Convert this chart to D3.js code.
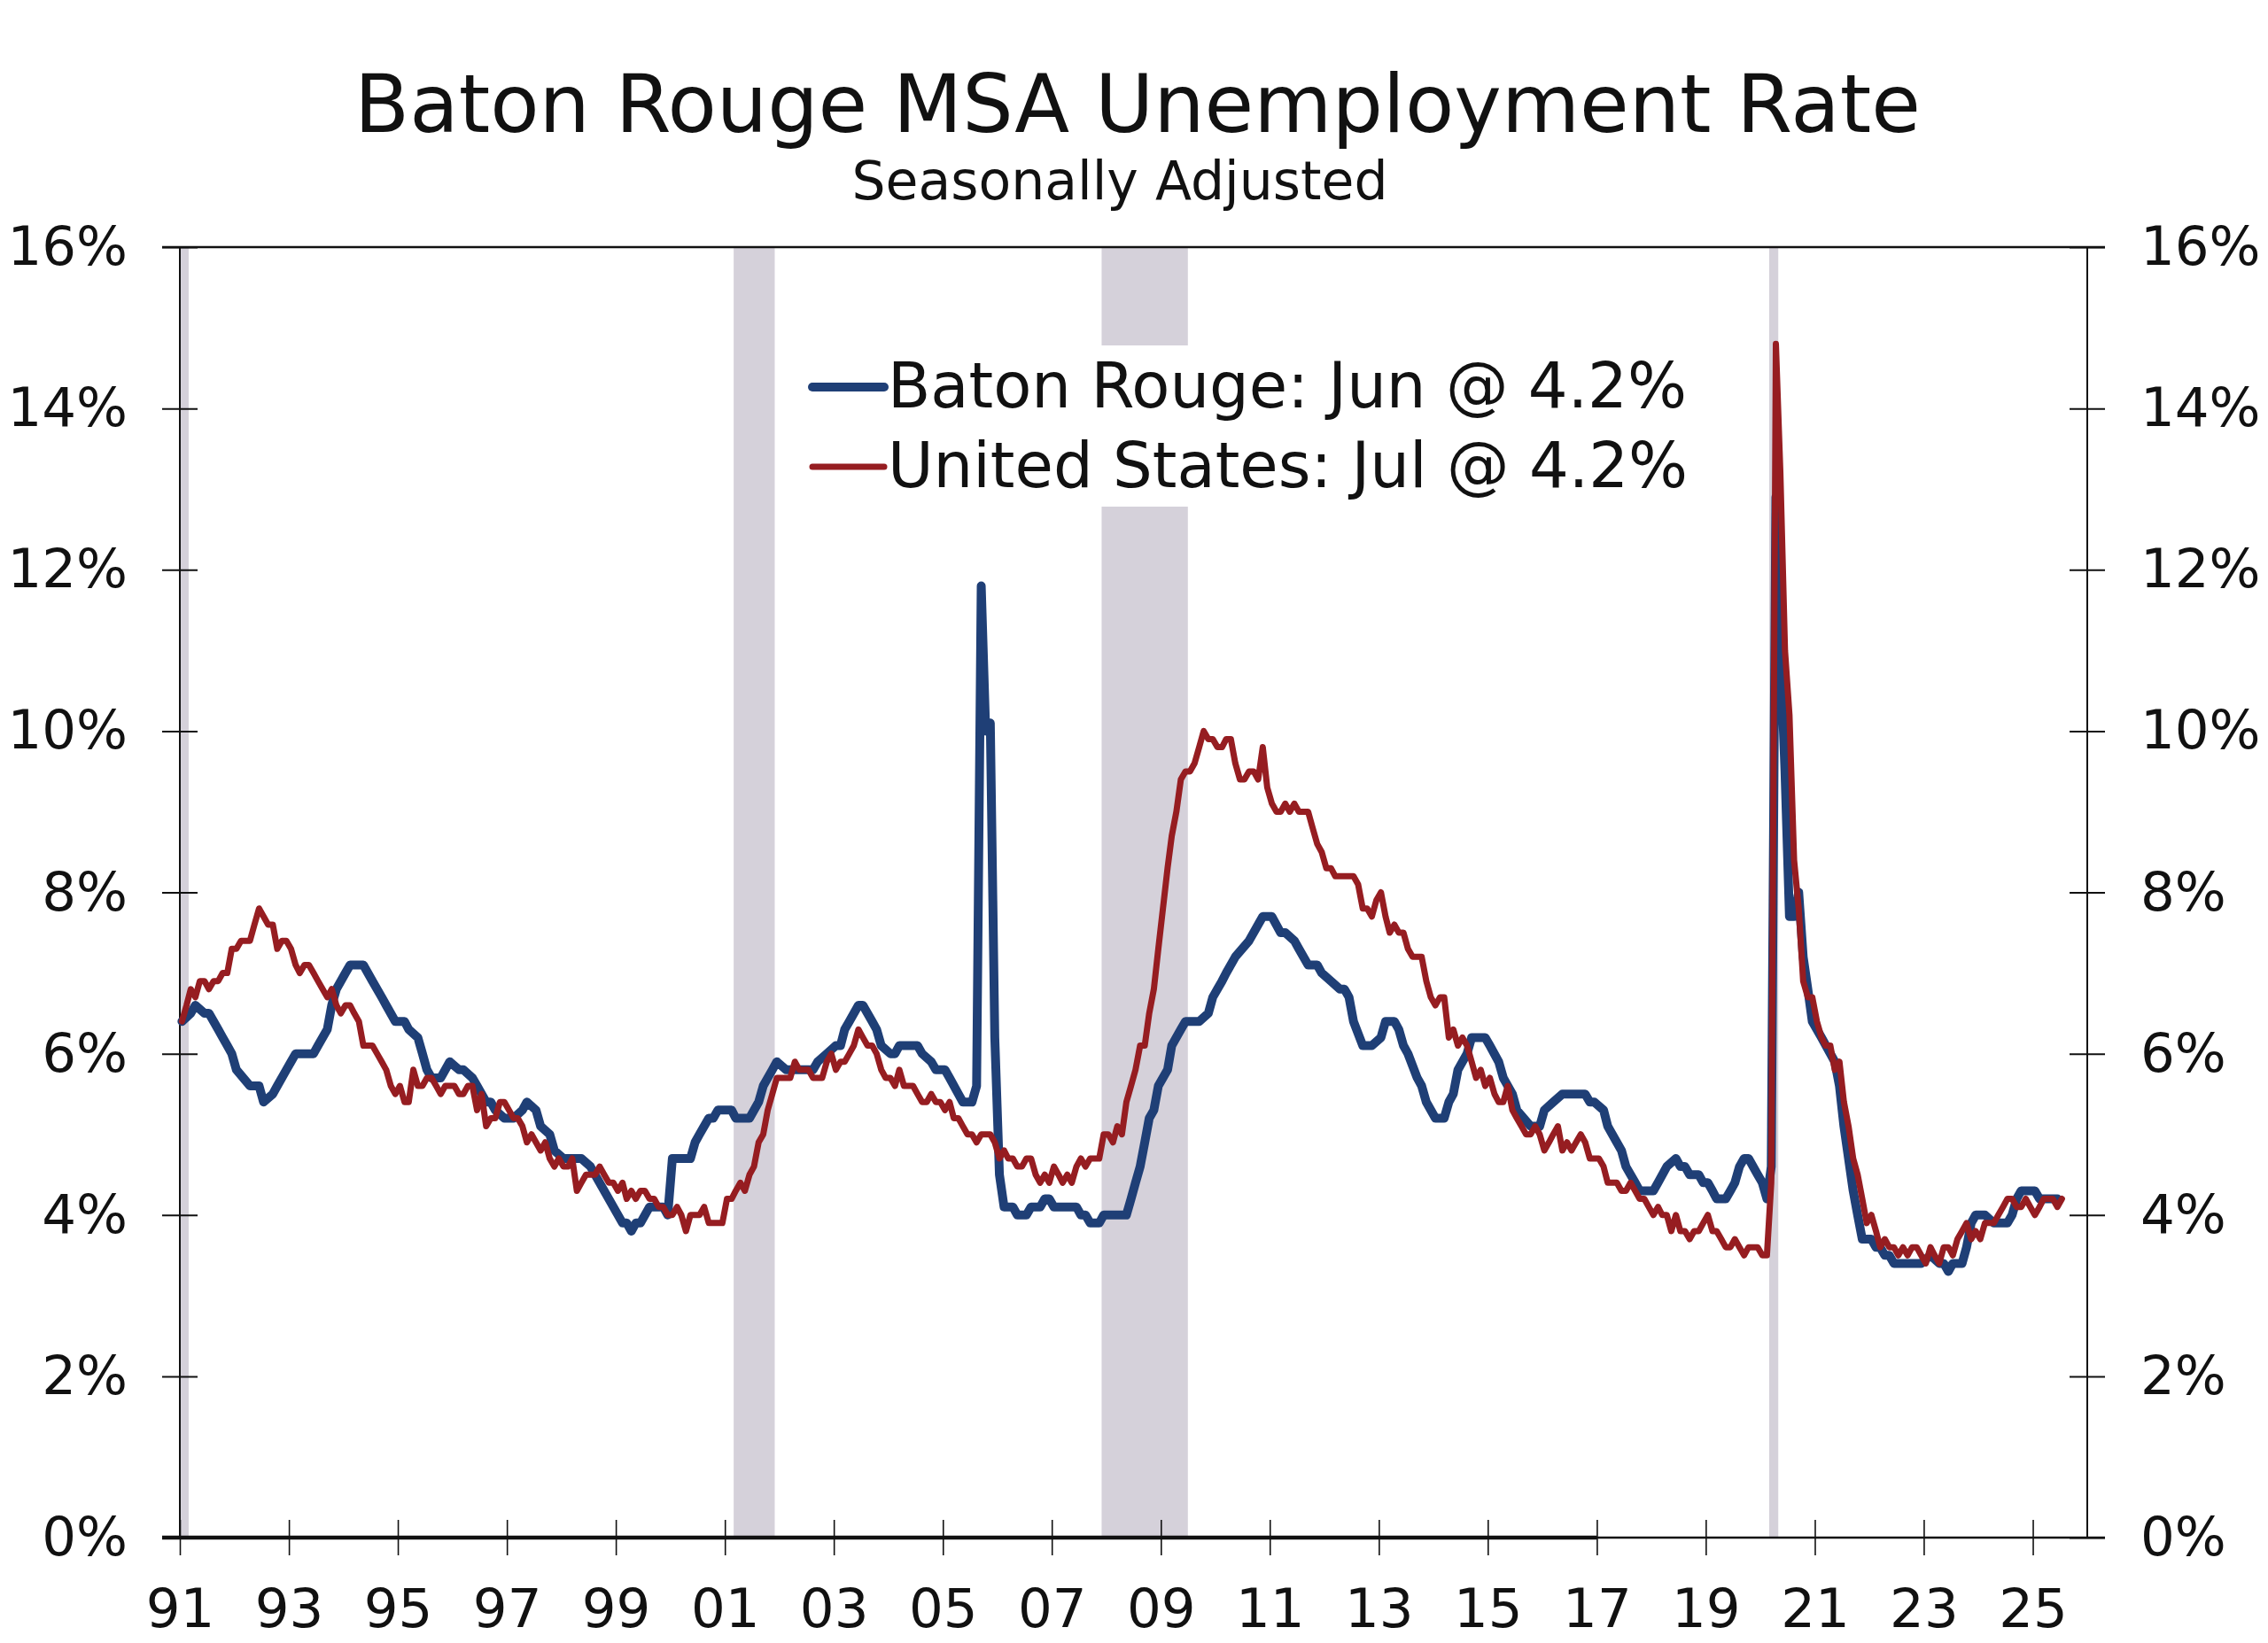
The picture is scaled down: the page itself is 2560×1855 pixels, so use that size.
<!DOCTYPE html>
<html>
<head>
  <meta charset="utf-8" />
  <title>Baton Rouge MSA Unemployment Rate</title>
  <script src="https://cdnjs.cloudflare.com/ajax/libs/d3/7.8.5/d3.min.js"></script>
  <style>
    body { margin: 0; background: #fff; }
    text { font-family: "DejaVu Sans", Verdana, sans-serif; fill: #111; }
  </style>
</head>
<body>
  <svg id="chart" width="2560" height="1855"></svg>
<script>
  // ---- data ----
  var titleText    = "Baton Rouge MSA Unemployment Rate"
  var subtitleText = "Seasonally Adjusted"
  var legendLabels = ["Baton Rouge: Jun @ 4.2%", "United States: Jul @ 4.2%"]
  var yTicks       = [0, 2, 4, 6, 8, 10, 12, 14, 16]
  var xTickYears   = [1991, 1993, 1995, 1997, 1999, 2001, 2003, 2005, 2007,
                      2009, 2011, 2013, 2015, 2017, 2019, 2021, 2023, 2025]

  // shaded recessions, [first month, month after]
  var recessions = [["1991-01", "1991-03"], ["2001-03", "2001-12"],
                    ["2007-12", "2009-07"], ["2020-03", "2020-05"]]

  // United States, monthly from usStart
  var usStart = "1991-01"
  var usRate = [
    6.4, 6.6, 6.8, 6.7, 6.9, 6.9, 6.8, 6.9, 6.9, 7.0, 7.0, 7.3,   // 1991
    7.3, 7.4, 7.4, 7.4, 7.6, 7.8, 7.7, 7.6, 7.6, 7.3, 7.4, 7.4,   // 1992
    7.3, 7.1, 7.0, 7.1, 7.1, 7.0, 6.9, 6.8, 6.7, 6.8, 6.6, 6.5,   // 1993
    6.6, 6.6, 6.5, 6.4, 6.1, 6.1, 6.1, 6.0, 5.9, 5.8, 5.6, 5.5,   // 1994
    5.6, 5.4, 5.4, 5.8, 5.6, 5.6, 5.7, 5.7, 5.6, 5.5, 5.6, 5.6,   // 1995
    5.6, 5.5, 5.5, 5.6, 5.6, 5.3, 5.5, 5.1, 5.2, 5.2, 5.4, 5.4,   // 1996
    5.3, 5.2, 5.2, 5.1, 4.9, 5.0, 4.9, 4.8, 4.9, 4.7, 4.6, 4.7,   // 1997
    4.6, 4.6, 4.7, 4.3, 4.4, 4.5, 4.5, 4.5, 4.6, 4.5, 4.4, 4.4,   // 1998
    4.3, 4.4, 4.2, 4.3, 4.2, 4.3, 4.3, 4.2, 4.2, 4.1, 4.1, 4.0,   // 1999
    4.0, 4.1, 4.0, 3.8, 4.0, 4.0, 4.0, 4.1, 3.9, 3.9, 3.9, 3.9,   // 2000
    4.2, 4.2, 4.3, 4.4, 4.3, 4.5, 4.6, 4.9, 5.0, 5.3, 5.5, 5.7,   // 2001
    5.7, 5.7, 5.7, 5.9, 5.8, 5.8, 5.8, 5.7, 5.7, 5.7, 5.9, 6.0,   // 2002
    5.8, 5.9, 5.9, 6.0, 6.1, 6.3, 6.2, 6.1, 6.1, 6.0, 5.8, 5.7,   // 2003
    5.7, 5.6, 5.8, 5.6, 5.6, 5.6, 5.5, 5.4, 5.4, 5.5, 5.4, 5.4,   // 2004
    5.3, 5.4, 5.2, 5.2, 5.1, 5.0, 5.0, 4.9, 5.0, 5.0, 5.0, 4.9,   // 2005
    4.7, 4.8, 4.7, 4.7, 4.6, 4.6, 4.7, 4.7, 4.5, 4.4, 4.5, 4.4,   // 2006
    4.6, 4.5, 4.4, 4.5, 4.4, 4.6, 4.7, 4.6, 4.7, 4.7, 4.7, 5.0,   // 2007
    5.0, 4.9, 5.1, 5.0, 5.4, 5.6, 5.8, 6.1, 6.1, 6.5, 6.8, 7.3,   // 2008
    7.8, 8.3, 8.7, 9.0, 9.4, 9.5, 9.5, 9.6, 9.8, 10.0, 9.9, 9.9,  // 2009
    9.8, 9.8, 9.9, 9.9, 9.6, 9.4, 9.4, 9.5, 9.5, 9.4, 9.8, 9.3,   // 2010
    9.1, 9.0, 9.0, 9.1, 9.0, 9.1, 9.0, 9.0, 9.0, 8.8, 8.6, 8.5,   // 2011
    8.3, 8.3, 8.2, 8.2, 8.2, 8.2, 8.2, 8.1, 7.8, 7.8, 7.7, 7.9,   // 2012
    8.0, 7.7, 7.5, 7.6, 7.5, 7.5, 7.3, 7.2, 7.2, 7.2, 6.9, 6.7,   // 2013
    6.6, 6.7, 6.7, 6.2, 6.3, 6.1, 6.2, 6.1, 5.9, 5.7, 5.8, 5.6,   // 2014
    5.7, 5.5, 5.4, 5.4, 5.6, 5.3, 5.2, 5.1, 5.0, 5.0, 5.1, 5.0,   // 2015
    4.8, 4.9, 5.0, 5.1, 4.8, 4.9, 4.8, 4.9, 5.0, 4.9, 4.7, 4.7,   // 2016
    4.7, 4.6, 4.4, 4.4, 4.4, 4.3, 4.3, 4.4, 4.3, 4.2, 4.2, 4.1,   // 2017
    4.0, 4.1, 4.0, 4.0, 3.8, 4.0, 3.8, 3.8, 3.7, 3.8, 3.8, 3.9,   // 2018
    4.0, 3.8, 3.8, 3.7, 3.6, 3.6, 3.7, 3.6, 3.5, 3.6, 3.6, 3.6,   // 2019
    3.5, 3.5, 4.4, 14.8, 13.2, 11.0, 10.2, 8.4, 7.8, 6.9, 6.7, 6.7, // 2020
    6.4, 6.2, 6.1, 6.1, 5.8, 5.9, 5.4, 5.1, 4.7, 4.5, 4.2, 3.9,   // 2021
    4.0, 3.8, 3.6, 3.7, 3.6, 3.6, 3.5, 3.6, 3.5, 3.6, 3.6, 3.5,   // 2022
    3.4, 3.6, 3.5, 3.4, 3.6, 3.6, 3.5, 3.7, 3.8, 3.9, 3.7, 3.8,   // 2023
    3.7, 3.9, 3.9, 3.9, 4.0, 4.1, 4.2, 4.2, 4.1, 4.1, 4.2, 4.1,   // 2024
    4.0, 4.1, 4.2, 4.2, 4.2, 4.1, 4.2                             // 2025
  ]

  // Baton Rouge, points read where the line turns
  var brPoints = [
    ["1991-01", 6.4], ["1991-03", 6.5], ["1991-04", 6.6], ["1991-06", 6.5], ["1991-07", 6.5],
    ["1991-09", 6.3], ["1991-10", 6.2], ["1991-11", 6.1], ["1991-12", 6.0], ["1992-01", 5.8],
    ["1992-04", 5.6], ["1992-06", 5.6], ["1992-07", 5.4], ["1992-09", 5.5], ["1992-10", 5.6],
    ["1992-12", 5.8], ["1993-01", 5.9], ["1993-02", 6.0], ["1993-06", 6.0], ["1993-07", 6.1],
    ["1993-09", 6.3], ["1993-10", 6.6], ["1993-11", 6.8], ["1994-01", 7.0], ["1994-02", 7.1],
    ["1994-05", 7.1], ["1994-07", 6.9], ["1994-09", 6.7], ["1994-10", 6.6], ["1994-12", 6.4],
    ["1995-02", 6.4], ["1995-03", 6.3], ["1995-05", 6.2], ["1995-06", 6.0], ["1995-07", 5.8],
    ["1995-08", 5.7], ["1995-10", 5.7], ["1995-11", 5.8], ["1995-12", 5.9], ["1996-02", 5.8],
    ["1996-03", 5.8], ["1996-05", 5.7], ["1996-06", 5.6], ["1996-08", 5.4], ["1996-09", 5.4],
    ["1996-10", 5.3], ["1996-12", 5.2], ["1997-02", 5.2], ["1997-04", 5.3], ["1997-05", 5.4],
    ["1997-07", 5.3], ["1997-08", 5.1], ["1997-10", 5.0], ["1997-11", 4.8], ["1998-01", 4.7],
    ["1998-05", 4.7], ["1998-07", 4.6], ["1999-02", 3.9], ["1999-03", 3.9], ["1999-04", 3.8],
    ["1999-05", 3.9], ["1999-06", 3.9], ["1999-08", 4.1], ["1999-09", 4.1], ["1999-11", 4.1],
    ["1999-12", 4.0], ["2000-01", 4.7], ["2000-05", 4.7], ["2000-06", 4.9], ["2000-07", 5.0],
    ["2000-09", 5.2], ["2000-10", 5.2], ["2000-11", 5.3], ["2001-02", 5.3], ["2001-03", 5.2],
    ["2001-06", 5.2], ["2001-08", 5.4], ["2001-09", 5.6], ["2001-11", 5.8], ["2001-12", 5.9],
    ["2002-02", 5.8], ["2002-08", 5.8], ["2002-09", 5.9], ["2002-11", 6.0], ["2003-01", 6.1],
    ["2003-02", 6.1], ["2003-03", 6.3], ["2003-04", 6.4], ["2003-06", 6.6], ["2003-07", 6.6],
    ["2003-09", 6.4], ["2003-10", 6.3], ["2003-11", 6.1], ["2004-01", 6.0], ["2004-02", 6.0],
    ["2004-03", 6.1], ["2004-07", 6.1], ["2004-08", 6.0], ["2004-10", 5.9], ["2004-11", 5.8],
    ["2005-01", 5.8], ["2005-02", 5.7], ["2005-04", 5.5], ["2005-05", 5.4], ["2005-07", 5.4],
    ["2005-08", 5.6], ["2005-09", 11.8], ["2005-10", 10.0], ["2005-11", 10.1], ["2005-12", 6.2],
    ["2006-01", 4.5], ["2006-02", 4.1], ["2006-04", 4.1], ["2006-05", 4.0], ["2006-07", 4.0],
    ["2006-08", 4.1], ["2006-10", 4.1], ["2006-11", 4.2], ["2006-12", 4.2], ["2007-01", 4.1],
    ["2007-06", 4.1], ["2007-07", 4.0], ["2007-08", 4.0], ["2007-09", 3.9], ["2007-11", 3.9],
    ["2007-12", 4.0], ["2008-04", 4.0], ["2008-05", 4.0], ["2008-06", 4.2], ["2008-07", 4.4],
    ["2008-08", 4.6], ["2008-09", 4.9], ["2008-10", 5.2], ["2008-11", 5.3], ["2008-12", 5.6],
    ["2009-02", 5.8], ["2009-03", 6.1], ["2009-05", 6.3], ["2009-06", 6.4], ["2009-09", 6.4],
    ["2009-11", 6.5], ["2009-12", 6.7], ["2010-01", 6.8], ["2010-02", 6.9], ["2010-03", 7.0],
    ["2010-05", 7.2], ["2010-08", 7.4], ["2010-10", 7.6], ["2010-11", 7.7], ["2011-01", 7.7],
    ["2011-03", 7.5], ["2011-04", 7.5], ["2011-06", 7.4], ["2011-07", 7.3], ["2011-09", 7.1],
    ["2011-11", 7.1], ["2011-12", 7.0], ["2012-02", 6.9], ["2012-04", 6.8], ["2012-05", 6.8],
    ["2012-06", 6.7], ["2012-07", 6.4], ["2012-09", 6.1], ["2012-11", 6.1], ["2013-01", 6.2],
    ["2013-02", 6.4], ["2013-04", 6.4], ["2013-05", 6.3], ["2013-06", 6.1], ["2013-07", 6.0],
    ["2013-09", 5.7], ["2013-10", 5.6], ["2013-11", 5.4], ["2014-01", 5.2], ["2014-03", 5.2],
    ["2014-04", 5.4], ["2014-05", 5.5], ["2014-06", 5.8], ["2014-08", 6.0], ["2014-09", 6.2],
    ["2014-12", 6.2], ["2015-01", 6.1], ["2015-03", 5.9], ["2015-04", 5.7], ["2015-06", 5.5],
    ["2015-07", 5.3], ["2015-10", 5.1], ["2015-12", 5.1], ["2016-01", 5.3], ["2016-03", 5.4],
    ["2016-05", 5.5], ["2016-10", 5.5], ["2016-11", 5.4], ["2016-12", 5.4], ["2017-02", 5.3],
    ["2017-03", 5.1], ["2017-05", 4.9], ["2017-06", 4.8], ["2017-07", 4.6], ["2017-09", 4.4],
    ["2017-10", 4.3], ["2018-01", 4.3], ["2018-02", 4.4], ["2018-04", 4.6], ["2018-06", 4.7],
    ["2018-07", 4.6], ["2018-08", 4.6], ["2018-09", 4.5], ["2018-11", 4.5], ["2018-12", 4.4],
    ["2019-01", 4.4], ["2019-02", 4.3], ["2019-03", 4.2], ["2019-05", 4.2], ["2019-06", 4.3],
    ["2019-07", 4.4], ["2019-08", 4.6], ["2019-09", 4.7], ["2019-10", 4.7], ["2019-12", 4.5],
    ["2020-01", 4.4], ["2020-02", 4.2], ["2020-03", 4.6], ["2020-04", 12.9], ["2020-05", 11.0],
    ["2020-06", 9.5], ["2020-07", 7.7], ["2020-08", 7.7], ["2020-09", 8.0], ["2020-10", 7.2],
    ["2020-11", 6.8], ["2020-12", 6.4], ["2021-02", 6.2], ["2021-04", 6.0], ["2021-05", 5.9],
    ["2021-06", 5.6], ["2021-07", 5.1], ["2021-08", 4.7], ["2021-09", 4.3], ["2021-10", 4.0],
    ["2021-11", 3.7], ["2022-01", 3.7], ["2022-02", 3.6], ["2022-03", 3.6], ["2022-04", 3.5],
    ["2022-05", 3.5], ["2022-06", 3.4], ["2022-12", 3.4], ["2023-02", 3.5], ["2023-04", 3.4],
    ["2023-05", 3.4], ["2023-06", 3.3], ["2023-07", 3.4], ["2023-09", 3.4], ["2023-10", 3.6],
    ["2023-11", 3.9], ["2023-12", 4.0], ["2024-02", 4.0], ["2024-04", 3.9], ["2024-07", 3.9],
    ["2024-08", 4.0], ["2024-09", 4.2], ["2024-10", 4.3], ["2025-01", 4.3], ["2025-02", 4.2],
    ["2025-06", 4.2]
  ]

  // ---- layout ----
  var plot   = { left: 203, right: 2356, top: 279, bottom: 1736 }
  var blue   = "#1f3f76"
  var red    = "#961d21"
  var shade  = "#d5d1da"

  var svg   = d3.select("#chart")
  var parse = d3.timeParse("%Y-%m")
  var mid   = d => d3.timeDay.offset(d, 14)   // monthly values sit mid-month

  var x = d3.scaleTime()
            .domain([parse("1991-01"), parse("2026-01")])
            .range([plot.left, plot.right])
  var y = d3.scaleLinear().domain([0, 16]).range([plot.bottom, plot.top])

  var brData = brPoints.map(d => ({ date: mid(parse(d[0])), value: d[1] }))
  var usData = usRate.map((v, i) => ({ date: mid(d3.timeMonth.offset(parse(usStart), i)), value: v }))

  svg.append("rect").attr("width", 2560).attr("height", 1855).attr("fill", "#fff")

  // titles
  svg.append("text")
     .attr("x", 1284).attr("y", 149)
     .attr("text-anchor", "middle").attr("font-size", 90.5)
     .text(titleText)
  svg.append("text")
     .attr("x", 1264).attr("y", 225)
     .attr("text-anchor", "middle").attr("font-size", 60)
     .text(subtitleText)

  // recession shading
  svg.append("g")
     .selectAll("rect")
     .data(recessions)
     .enter()
     .append("rect")
       .attr("x", d => x(parse(d[0])))
       .attr("width", d => x(parse(d[1])) - x(parse(d[0])))
       .attr("y", plot.top)
       .attr("height", plot.bottom - plot.top)
       .attr("fill", shade)

  // axes, ticks cross the frame
  function styleAxis(g) {
    g.select(".domain").remove()
    g.attr("font-family", null).attr("font-size", 61)
    g.selectAll(".tick line").attr("stroke", "#111").attr("stroke-width", 2)
    g.selectAll(".tick text").attr("fill", "#111")
  }

  svg.append("g")
     .attr("transform", `translate(${plot.left},0)`)
     .call(d3.axisLeft(y).tickValues(yTicks).tickSize(20).tickPadding(39).tickFormat(d => d + "%"))
     .call(styleAxis)
     .call(g => g.selectAll(".tick line").attr("x1", 20))

  svg.append("g")
     .attr("transform", `translate(${plot.right},0)`)
     .call(d3.axisRight(y).tickValues(yTicks).tickSize(20).tickPadding(40).tickFormat(d => d + "%"))
     .call(styleAxis)
     .call(g => g.selectAll(".tick line").attr("x1", -20))

  svg.append("g")
     .attr("transform", `translate(0,${plot.bottom})`)
     .call(d3.axisBottom(x)
             .tickValues(xTickYears.map(yr => new Date(yr, 0, 1)))
             .tickSize(20).tickPadding(38)
             .tickFormat(d3.timeFormat("%y")))
     .call(styleAxis)
     .call(g => g.selectAll(".tick line").attr("y1", -20).attr("stroke-width", 1.6))

  // frame
  var frame = svg.append("g").attr("stroke", "#111").attr("fill", "none")
  frame.append("line").attr("x1", plot.left).attr("x2", plot.left)
       .attr("y1", plot.top).attr("y2", plot.bottom).attr("stroke-width", 2)
  frame.append("line").attr("x1", plot.right).attr("x2", plot.right)
       .attr("y1", plot.top).attr("y2", plot.bottom).attr("stroke-width", 2)
  frame.append("line").attr("x1", plot.left - 20).attr("x2", plot.right + 20)
       .attr("y1", plot.top).attr("y2", plot.top).attr("stroke-width", 2.5)
  frame.append("line").attr("x1", plot.left - 20).attr("x2", plot.right + 20)
       .attr("y1", plot.bottom).attr("y2", plot.bottom).attr("stroke-width", 2.5)
  frame.append("line").attr("x1", plot.left - 20).attr("x2", x(new Date(2017, 0, 1)))
       .attr("y1", plot.bottom).attr("y2", plot.bottom).attr("stroke-width", 4.5)

  // legend box hides the shading behind it
  svg.append("rect")
     .attr("x", 905).attr("y", 390).attr("width", 1005).attr("height", 182)
     .attr("fill", "#fff")

  // series
  var line = d3.line().x(d => x(d.date)).y(d => y(d.value))

  svg.append("path")
     .datum(brData)
     .attr("d", line)
     .attr("fill", "none").attr("stroke", blue).attr("stroke-width", 10)
     .attr("stroke-linejoin", "round").attr("stroke-linecap", "round")

  svg.append("path")
     .datum(usData)
     .attr("d", line)
     .attr("fill", "none").attr("stroke", red).attr("stroke-width", 7)
     .attr("stroke-linejoin", "round").attr("stroke-linecap", "round")

  // legend
  var legendColors = [blue, red]
  var legendWidths = [10, 7]
  var legend = svg.append("g")
                  .selectAll("g")
                  .data(legendLabels)
                  .enter()
                  .append("g")
                    .attr("transform", (d, i) => `translate(917,${437 + i * 90})`)
  legend.append("line")
        .attr("x1", 0).attr("x2", 81)
        .attr("stroke", (d, i) => legendColors[i])
        .attr("stroke-width", (d, i) => legendWidths[i])
        .attr("stroke-linecap", "round")
  legend.append("text")
        .attr("x", 85).attr("y", 23)
        .attr("font-size", 70.5)
        .text(d => d)
</script>
</body>
</html>
